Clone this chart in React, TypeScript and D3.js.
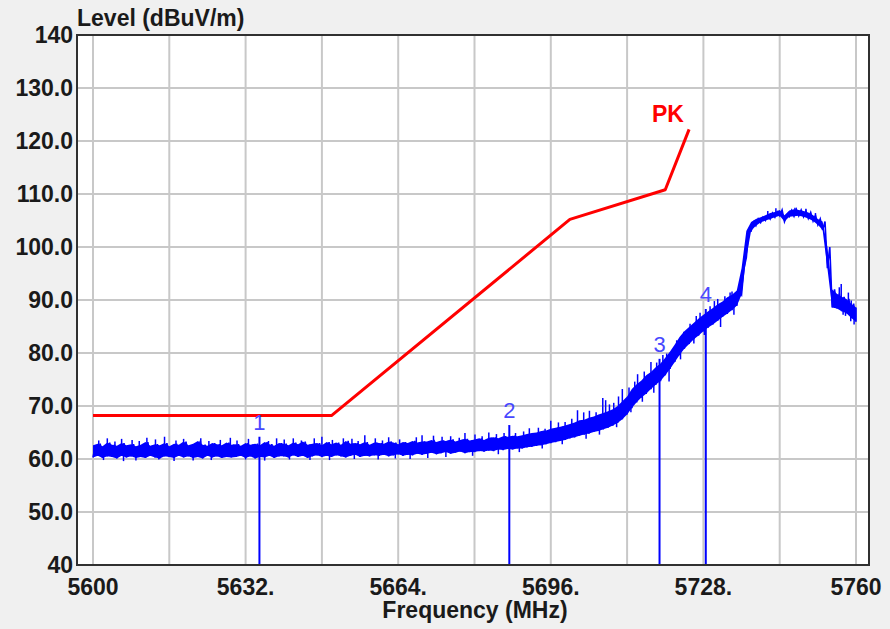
import React from 'react';
import * as d3 from 'd3';

const W = 890;
const H = 629;

const xGrid = [5600, 5616, 5632, 5648, 5664, 5680, 5696, 5712, 5728, 5744, 5760];
const xTickValues = [5600, 5632, 5664, 5696, 5728, 5760];
const xTickLabels = ['5600', '5632.', '5664.', '5696.', '5728.', '5760'];
const yTickValues = [40, 50, 60, 70, 80, 90, 100, 110, 120, 130, 140];
const yTickLabels = ['40', '50.0', '60.0', '70.0', '80.0', '90.0', '100.0', '110.0', '120.0', '130.0', '140'];

const limitFreq = [5600, 5650, 5700, 5720, 5725];
const limitLevel = [68.2, 68.2, 105.2, 110.8, 122.2];

const traceStart = 5600;
const traceStep = 1;
const traceLo = [
  60.3, 60.6, 60.2, 60.5, 60.4, 60.1, 60.6, 60.3, 60.5, 60.2,
  60.4, 60.2, 60.6, 60.3, 60.1, 60.5, 60.4, 60.2, 60.6, 60.3,
  60.5, 60.2, 60.4, 60.1, 60.6, 60.3, 60.5, 60.2, 60.4, 60.3,
  60.4, 60.6, 60.2, 60.5, 60.1, 60.4, 60.3, 60.6, 60.2, 60.5,
  60.5, 60.3, 60.7, 60.4, 60.6, 60.2, 60.5, 60.7, 60.4, 60.6,
  60.4, 60.7, 60.5, 60.3, 60.6, 60.8, 60.4, 60.6, 60.5, 60.7,
  60.6, 60.8, 60.5, 60.7, 60.9, 60.6, 60.8, 60.7, 61.0, 60.8,
  61.0, 61.2, 60.9, 61.1, 61.3, 61.0, 61.2, 61.4, 61.1, 61.3,
  61.3, 61.5, 61.4, 61.6, 61.5, 61.8, 61.7, 61.9, 61.8, 62.0,
  62.0, 62.2, 62.3, 62.5, 62.6, 62.8, 63.0, 63.2, 63.4, 63.6,
  63.9, 64.1, 64.4, 64.6, 64.8, 65.1, 65.3, 65.6, 65.9, 66.3,
  66.8, 67.5, 68.4, 69.6, 70.7, 71.6, 72.3, 73.2, 74.0, 74.7,
  75.8, 77.0, 78.3, 79.6, 80.8, 81.7, 82.6, 83.3, 84.1, 84.8,
  85.4, 86.1, 86.8, 87.4, 88.1, 88.9, 91.0, 98.0, 103.0, 104.0,
  104.6, 105.0, 105.3, 105.6, 105.9, 104.8, 105.7, 105.8, 105.9, 105.7,
  105.4, 104.9, 104.2, 103.2, 96.0, 88.6, 88.4, 87.9, 87.5, 86.6, 85.9,
];
const traceHi = [
  62.6, 62.9, 62.4, 63.1, 62.7, 62.5, 63.0, 62.6, 62.8, 62.4,
  62.7, 63.2, 62.5, 62.8, 62.6, 63.0, 62.4, 62.9, 62.7, 63.3,
  62.6, 62.9, 63.4, 62.7, 62.5, 63.0, 62.8, 62.6, 63.1, 62.7,
  62.8, 62.5, 63.0, 62.7, 62.9, 62.6, 63.2, 62.8, 62.5, 63.0,
  62.9, 62.6, 63.1, 62.8, 63.3, 62.7, 62.9, 63.0, 62.6, 63.2,
  62.8, 63.1, 62.7, 63.4, 62.9, 63.0, 62.8, 63.2, 62.7, 63.1,
  63.0, 62.9, 63.3, 63.1, 62.8, 63.2, 63.0, 63.4, 63.1, 63.3,
  63.3, 63.6, 63.2, 63.5, 63.4, 63.7, 63.3, 63.6, 63.8, 63.5,
  63.7, 63.9, 63.6, 64.0, 64.1, 63.9, 64.3, 64.2, 64.4, 64.3,
  64.5, 64.7, 64.9, 65.0, 65.3, 65.4, 65.7, 65.9, 66.1, 66.3,
  66.6, 66.9, 67.3, 67.4, 67.8, 68.0, 68.4, 68.7, 69.0, 69.4,
  70.0, 70.9, 71.8, 73.2, 74.1, 74.8, 75.8, 76.4, 77.3, 78.0,
  79.1, 80.3, 81.6, 83.0, 84.1, 84.9, 85.7, 86.5, 87.2, 87.9,
  88.5, 89.2, 89.7, 90.5, 91.0, 91.8, 96.0, 103.0, 104.7, 105.3,
  105.6, 106.0, 106.4, 106.6, 107.0, 106.0, 106.9, 107.1, 107.0, 106.8,
  106.5, 106.0, 105.3, 104.8, 100.0, 92.0, 91.2, 90.6, 90.2, 89.3, 88.6,
];

// isolated noise spikes: [frequency, level]
const spikes: [number, number][] = [
  [5601.2, 63.5], [5602.2, 59.8], [5603.0, 63.9], [5604.6, 63.3], [5606.0, 63.8],
  [5606.4, 59.6], [5608.2, 63.6], [5609.0, 59.7], [5609.7, 63.4], [5611.3, 64.0],
  [5613.1, 63.7], [5613.8, 59.9], [5615.0, 64.2], [5617.0, 59.6], [5617.4, 63.5],
  [5619.0, 63.8], [5621.0, 59.7], [5622.6, 63.9], [5624.3, 63.4], [5624.8, 59.8],
  [5626.7, 63.6], [5628.8, 64.0], [5630.2, 63.5], [5632.0, 59.9], [5632.6, 63.8],
  [5636.0, 59.7], [5636.8, 63.4], [5638.5, 63.9], [5640.1, 63.7], [5641.2, 59.9],
  [5642.0, 63.9], [5643.7, 63.5], [5645.5, 59.8], [5646.4, 63.9], [5648.0, 64.2],
  [5649.6, 59.8], [5650.2, 63.6], [5652.5, 63.9], [5654.3, 63.8], [5654.8, 60.0],
  [5655.6, 63.4], [5657.0, 64.5], [5659.2, 63.9], [5659.8, 59.9], [5660.7, 63.5],
  [5662.0, 64.1], [5663.4, 60.1], [5664.3, 63.7], [5666.5, 60.0], [5667.8, 64.1],
  [5669.0, 64.5], [5670.2, 60.2], [5671.4, 64.4], [5673.2, 64.2], [5674.0, 60.4],
  [5675.0, 64.3], [5676.8, 64.0], [5678.0, 64.9], [5679.6, 60.6], [5680.1, 64.6],
  [5681.6, 64.3], [5683.0, 65.0], [5684.6, 64.7], [5685.0, 60.9], [5686.2, 64.9],
  [5688.6, 64.9], [5689.4, 61.3], [5690.3, 65.2], [5691.5, 65.8], [5693.4, 65.9],
  [5694.2, 62.0], [5694.8, 65.7], [5696.0, 67.2], [5697.6, 66.9], [5698.4, 62.8],
  [5699.0, 67.0], [5700.4, 67.6], [5701.6, 69.2], [5702.9, 68.8], [5703.4, 63.8],
  [5704.1, 69.1], [5705.5, 68.8], [5706.2, 64.6], [5706.9, 71.5], [5707.5, 71.1],
  [5708.3, 70.3], [5709.2, 70.6], [5709.8, 66.0], [5710.2, 71.8], [5711.0, 73.2],
  [5712.4, 73.5], [5712.8, 68.8], [5713.6, 74.6], [5714.2, 76.0], [5715.2, 70.8],
  [5715.6, 76.5], [5717.0, 78.3], [5717.6, 72.5], [5718.2, 78.2], [5719.5, 79.6],
  [5720.3, 79.9], [5720.8, 74.6], [5721.2, 80.2], [5722.4, 82.4], [5723.2, 78.8],
  [5723.9, 84.0], [5725.2, 85.5], [5726.0, 81.8], [5726.5, 87.0], [5727.3, 87.6],
  [5728.2, 83.4], [5729.4, 88.8], [5730.3, 89.8], [5731.0, 90.2], [5731.6, 84.9],
  [5732.5, 90.7], [5733.6, 91.4], [5734.0, 91.6], [5734.4, 87.2], [5735.2, 92.0],
  [5741.5, 106.8], [5743.2, 107.3], [5747.2, 107.4], [5749.5, 107.2], [5751.5, 106.4],
  [5755.8, 89.0], [5756.5, 92.4], [5756.9, 93.0], [5757.3, 87.2], [5757.8, 87.0],
  [5758.4, 91.4], [5758.9, 86.0], [5759.0, 89.9], [5759.6, 85.4],
];

const markerFreq = [5634.9, 5687.3, 5718.8, 5728.5];
const markerLevel = [64.2, 66.4, 78.9, 88.3];
const markerNames = ['1', '2', '3', '4'];

const FONT = '"Liberation Sans", Arial, Helvetica, sans-serif';

export default function App() {
  const x = d3.scaleLinear().domain([5600, 5760]).range([93, 856]);
  const y = d3.scaleLinear().domain([40, 140]).range([565, 35]);

  const frameL = 77, frameR = 869, frameT = 35, frameB = 565;

  const limitPts: [number, number][] = limitFreq.map((f, i) => [x(f), y(limitLevel[i])]);
  const limitPath = d3.line()(limitPts) || '';

  const zig: [number, number][] = [];
  traceLo.forEach((lo, i) => {
    const f = traceStart + i * traceStep;
    zig.push([x(f), y(lo)]);
    if (i < traceLo.length - 1) zig.push([x(f + traceStep / 2), y(traceHi[i])]);
    else zig.push([x(f), y(traceHi[i])]);
  });
  const zigPath = d3.line()(zig) || '';

  const areaGen = d3
    .area<number>()
    .x((_, i) => x(traceStart + i * traceStep))
    .y0((d) => y(d))
    .y1((_, i) => y(traceHi[i]));
  const bandPath = areaGen(traceLo) || '';

  const center = (f: number) => {
    const t = (f - traceStart) / traceStep;
    const i0 = Math.max(0, Math.min(traceLo.length - 1, Math.floor(t)));
    const i1 = Math.min(traceLo.length - 1, i0 + 1);
    const c0 = (traceLo[i0] + traceHi[i0]) / 2;
    const c1 = (traceLo[i1] + traceHi[i1]) / 2;
    return c0 + (c1 - c0) * (t - i0);
  };

  return (
    <svg width={W} height={H} style={{ position: 'absolute', left: 0, top: 0 }} fontFamily={FONT}>
      <rect x={0} y={0} width={W} height={H} fill="#f0f0f0" />
      <rect x={frameL} y={frameT} width={frameR - frameL} height={frameB - frameT} fill="#ffffff" />
      <defs>
        <clipPath id="plotClip">
          <rect x={frameL} y={frameT} width={frameR - frameL} height={frameB - frameT} />
        </clipPath>
      </defs>
      {xGrid.map((g) => (
        <line key={'xg' + g} x1={x(g)} x2={x(g)} y1={frameT} y2={frameB} stroke="#c8c8c8" strokeWidth={2} />
      ))}
      {yTickValues.slice(1, -1).map((g) => (
        <line key={'yg' + g} x1={frameL} x2={frameR} y1={y(g)} y2={y(g)} stroke="#c8c8c8" strokeWidth={2} />
      ))}
      <g clipPath="url(#plotClip)">
        <path d={limitPath} fill="none" stroke="#ff0000" strokeWidth={3} strokeLinejoin="round" />
        <path d={bandPath} fill="#0000ff" stroke="none" />
        <path d={zigPath} fill="none" stroke="#0000ff" strokeWidth={1.6} />
        {spikes.map(([f, lv], i) => (
          <line key={'sp' + i} x1={x(f)} x2={x(f)} y1={y(center(f))} y2={y(lv)} stroke="#0000ff" strokeWidth={1.5} />
        ))}
        {markerFreq.map((f, i) => (
          <line key={'mk' + i} x1={x(f)} x2={x(f)} y1={frameB} y2={y(markerLevel[i])} stroke="#0000ff" strokeWidth={2} />
        ))}
      </g>
      {markerFreq.map((f, i) => (
        <text key={'ml' + i} x={x(f)} y={y(markerLevel[i]) - 7} textAnchor="middle" fontSize={22} fill="#4848ff">
          {markerNames[i]}
        </text>
      ))}
      <text x={652} y={122} fontSize={23} fontWeight="bold" fill="#ff0000">PK</text>
      <rect x={frameL} y={frameT} width={frameR - frameL} height={frameB - frameT} fill="none" stroke="#303030" strokeWidth={2} />
      {yTickValues.map((v, i) => (
        <text key={'yt' + v} x={73} y={y(v)} dy="0.36em" textAnchor="end" fontSize={23} fontWeight="bold" fill="#1a1a1a">
          {yTickLabels[i]}
        </text>
      ))}
      {xTickValues.map((v, i) => (
        <text key={'xt' + v} x={x(v)} y={595} textAnchor="middle" fontSize={23} fontWeight="bold" fill="#1a1a1a">
          {xTickLabels[i]}
        </text>
      ))}
      <text x={77} y={26} fontSize={23} fontWeight="bold" fill="#1a1a1a">Level (dBuV/m)</text>
      <text x={475} y={618} textAnchor="middle" fontSize={23} fontWeight="bold" fill="#1a1a1a">Frequency (MHz)</text>
    </svg>
  );
}
